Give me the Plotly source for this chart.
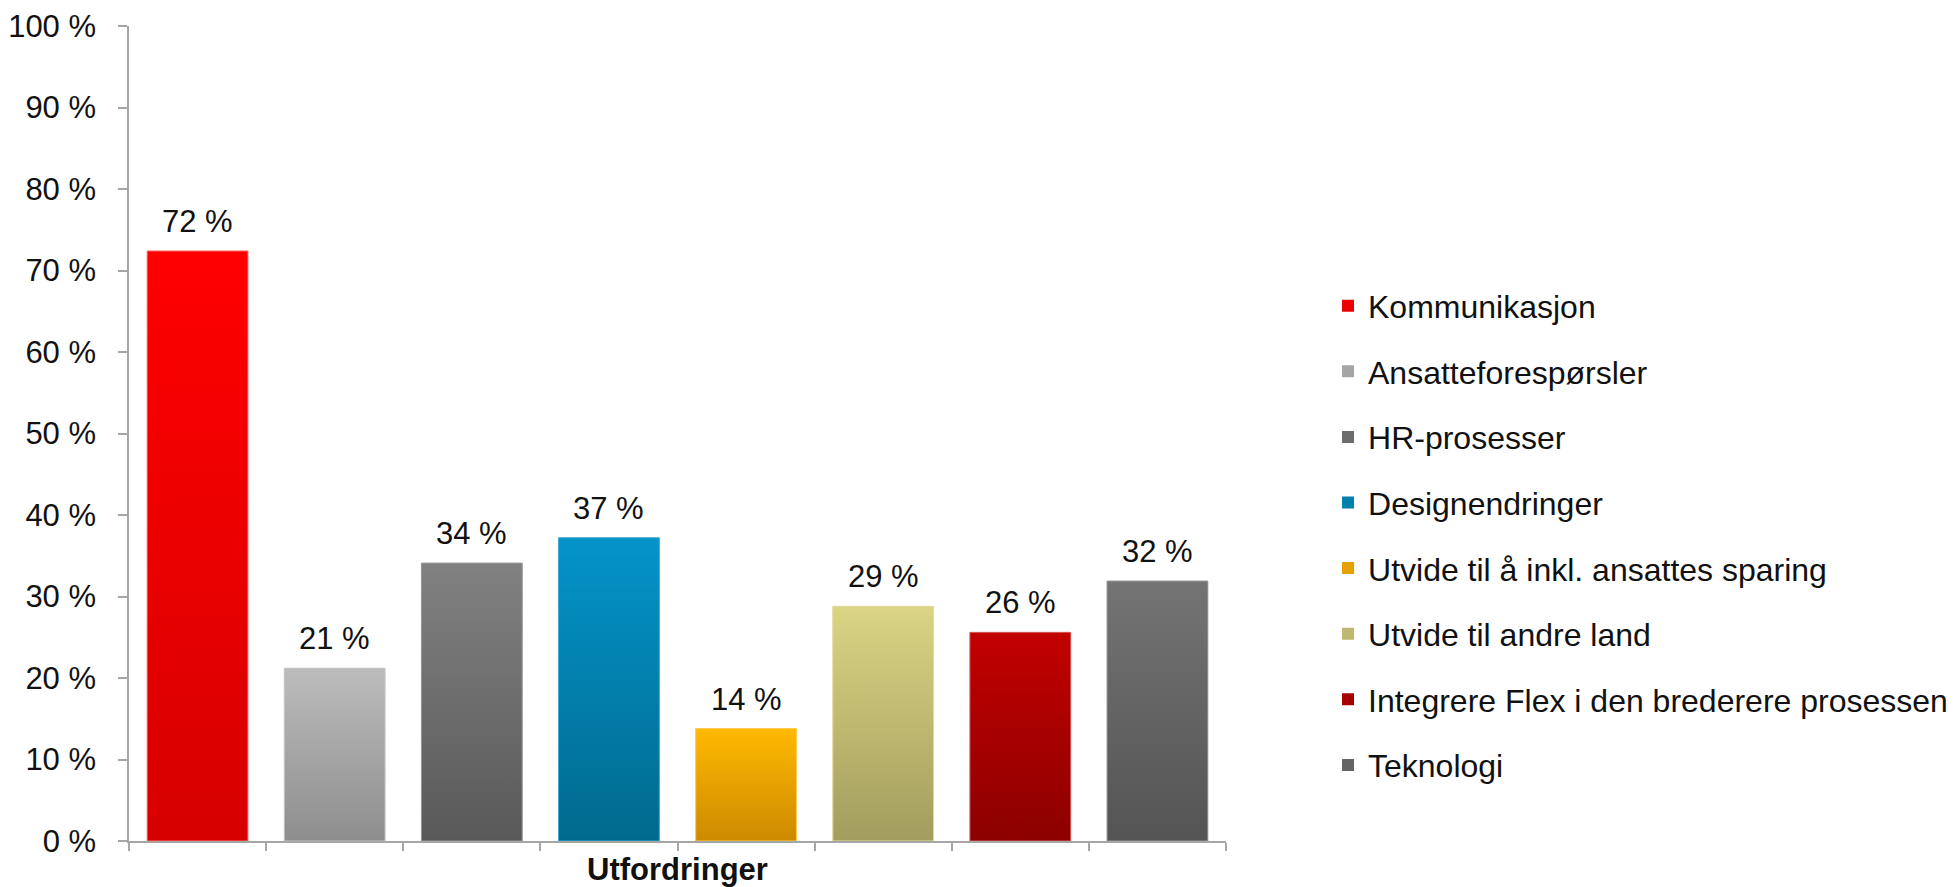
import plotly.graph_objects as go

# ---- data ----
categories = [
    "Kommunikasjon",
    "Ansatteforespørsler",
    "HR-prosesser",
    "Designendringer",
    "Utvide til å inkl. ansattes sparing",
    "Utvide til andre land",
    "Integrere Flex i den brederere prosessen",
    "Teknologi",
]
values = [72.4, 21.2, 34.1, 37.2, 13.8, 28.8, 25.6, 31.9]
axis_title = "Utfordringer"
y_ticks = [0, 10, 20, 30, 40, 50, 60, 70, 80, 90, 100]

# ---- styles ----
top_colors = ["#FF0000", "#BCBCBC", "#818181", "#0494CA", "#FFB900", "#DAD484", "#C20000", "#747474"]
bottom_colors = ["#D60000", "#8E8E8E", "#595959", "#006A8D", "#CD8A00", "#A39D5E", "#8C0000", "#545454"]
mid_colors = ["#EB0000", "#A5A5A5", "#6D6D6D", "#027FAB", "#E6A100", "#BEB871", "#A70000", "#646464"]
edge_colors = ["#FF7070", "#C8C8C8", "#9A9A9A", "#40A8D0", "#FFCC55", "#E2DDA0", "#D86060", "#999999"]
FONT = "Liberation Sans, Arial, sans-serif"
BAR_W = 0.735

fig = go.Figure()
for i, (cat, v) in enumerate(zip(categories, values)):
    fig.add_trace(go.Bar(
        x=[i], y=[v], width=BAR_W, name=cat, legendgroup=cat,
        marker=dict(color=mid_colors[i], line=dict(width=0)),
        hoverinfo="name+y",
    ))
    h = BAR_W / 2
    fig.add_trace(go.Scatter(
        x=[i - h, i - h, i + h, i + h, i - h], y=[0, v, v, 0, 0],
        mode="lines", fill="toself",
        fillgradient=dict(type="vertical", colorscale=[[0, bottom_colors[i]], [1, top_colors[i]]]),
        line=dict(width=1, color=edge_colors[i]),
        showlegend=False, legendgroup=cat, hoverinfo="skip",
    ))
    fig.add_annotation(
        x=i, y=v, xref="x", yref="y", text=f"{round(v)} %",
        showarrow=False, yanchor="bottom", yshift=10,
        font=dict(size=31, color="#111111", family=FONT),
    )

fig.update_layout(
    width=1956, height=887,
    paper_bgcolor="white", plot_bgcolor="white",
    barmode="overlay",
    font=dict(family=FONT, size=31, color="#111111"),
    margin=dict(l=129, r=730, t=26, b=46, autoexpand=False),
    showlegend=True,
    legend=dict(
        x=1.093, xanchor="left", y=0.375, yanchor="middle",
        font=dict(size=32, family=FONT, color="#111111"),
        tracegroupgap=21, bgcolor="rgba(0,0,0,0)",
    ),
    xaxis=dict(
        range=[-0.5, len(categories) - 0.5],
        tickvals=[k - 0.5 for k in range(len(categories) + 1)],
        ticktext=["" for _ in range(len(categories) + 1)],
        ticks="outside", ticklen=8, tickcolor="#A6A6A6", tickwidth=1.5,
        showline=True, linecolor="#A6A6A6", linewidth=1.5,
        showgrid=False, zeroline=False,
        title=dict(text=f"<b>{axis_title}</b>", font=dict(size=31, family=FONT, color="#111111"), standoff=4),
    ),
    yaxis=dict(
        range=[0, 100], tickvals=y_ticks, ticktext=[f"{t} %" for t in y_ticks],
        ticks="outside", ticklen=9, tickcolor="#A6A6A6", tickwidth=1.5,
        showline=True, linecolor="#A6A6A6", linewidth=1.5,
        showgrid=False, zeroline=False, ticklabelstandoff=16,
        tickfont=dict(size=31, family=FONT, color="#111111"),
    ),
)

fig.write_html("out.html", config={"displayModeBar": False},
               post_script="document.body.style.margin='0';")
